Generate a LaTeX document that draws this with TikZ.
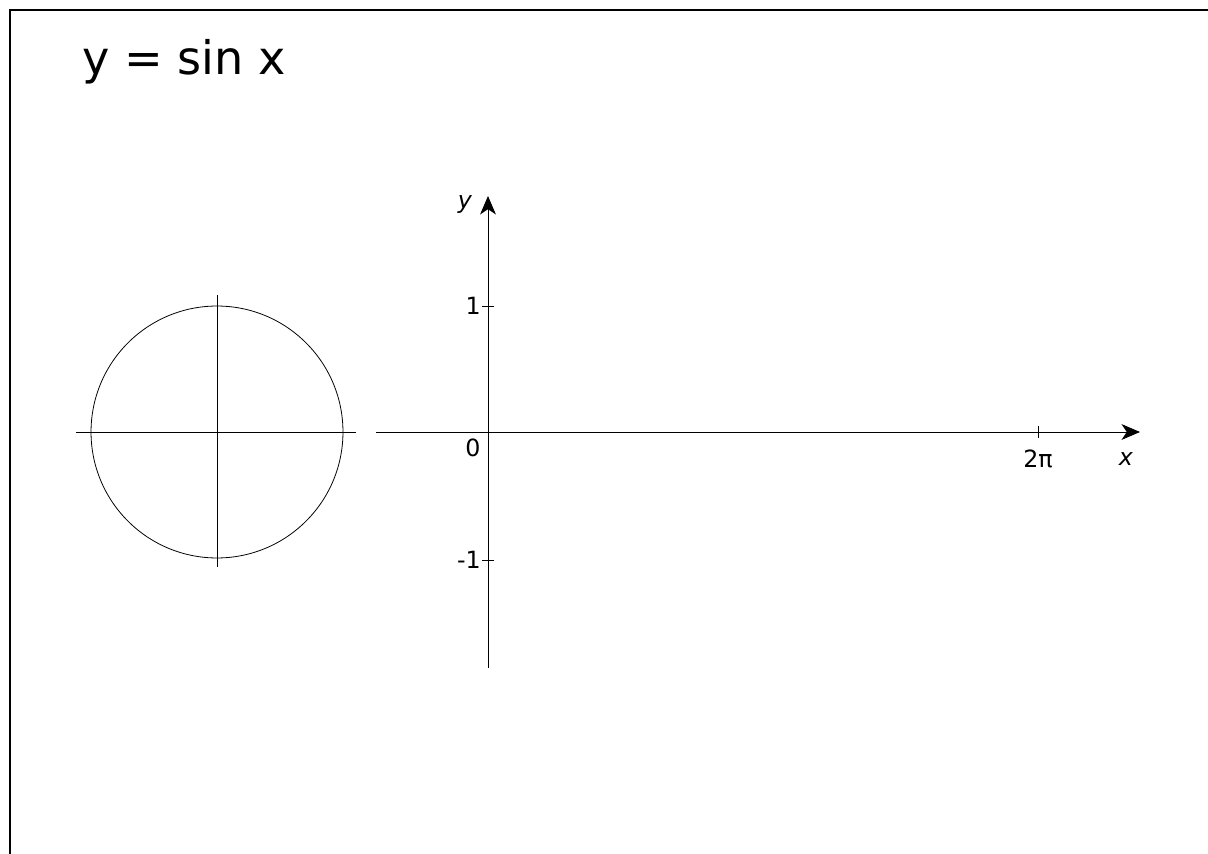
\documentclass[tikz,border=0pt]{standalone}
\usepackage{fontspec}
\setmainfont{DejaVu Sans}
\usetikzlibrary{arrows.meta}
\tikzset{
  axisline/.style={line width=0.55pt, color=black},
  axisarrow/.style={
    -{Stealth[length=10.5pt, width=9pt, inset=3pt]},
    line width=0.55pt, color=black
  },
  ticklabel/.style={font=\fontsize{13.5}{15}\selectfont, inner sep=0pt},
  varlabel/.style={font=\fontsize{13.5}{15}\selectfont\itshape, inner sep=0pt},
  titlelabel/.style={font=\fontsize{26.3}{31}\selectfont, inner sep=0pt},
}

\begin{document}
\begin{tikzpicture}[x=0.02cm, y=-0.02cm]
  \useasboundingbox (0,0) rectangle (1208,854);
  % frame
  \draw[line width=0.75pt] (1208,10) -- (10,10) -- (10,854);
  % title
  \node[titlelabel, anchor=base west](title) at (82,75) {y = sin x};
  % unit circle
  \coordinate (cc) at (217,432);
  \coordinate (cl) at (76,432);
  \coordinate (cr) at (356,432);
  \coordinate (ct) at (217,295);
  \coordinate (cb) at (217,567);
  \draw[axisline, line width=0.45pt] (cc) circle [radius=2.52cm];
  \draw[axisline] (cl) -- (cr);
  \draw[axisline] (ct) -- (cb);
  % axes
  \coordinate (xstart) at (376,432);
  \coordinate (xend)   at (1140,432);
  \coordinate (ystart) at (488,668);
  \coordinate (yend)   at (488,196);
  \draw[axisarrow] (xstart) -- (xend);
  \draw[axisarrow] (ystart) -- (yend);
  % ticks
  \draw[axisline] (482,306) -- (494,306);
  \draw[axisline] (482,560) -- (494,560);
  \draw[axisline] (1038,426) -- (1038,438);
  % labels
  \node[ticklabel, anchor=east](lone) at (481,306) {1};
  \node[ticklabel, anchor=east](lmone) at (481,560) {-1};
  \node[ticklabel](lzero) at (473,448) {0};
  \node[ticklabel](ltwopi) at (1038,459) {2π};
  \node[varlabel](lx) at (1126,459) {x};
  \node[varlabel](ly) at (465,204) {y};
\end{tikzpicture}
\end{document}
